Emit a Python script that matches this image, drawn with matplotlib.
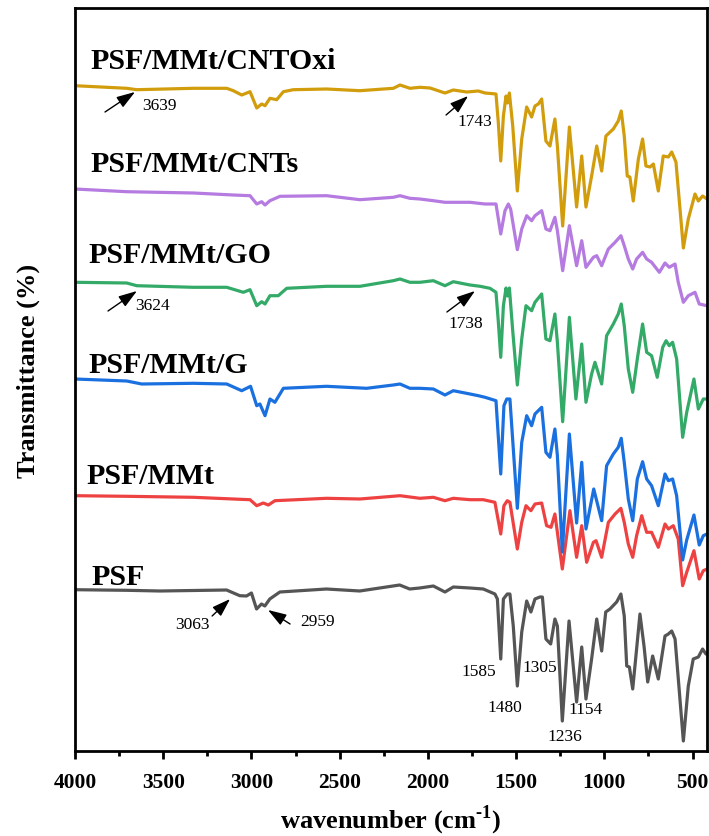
import matplotlib
matplotlib.use("Agg")
import matplotlib.pyplot as plt
from matplotlib.ticker import MultipleLocator

plt.rcParams['font.family'] = ['Liberation Serif', 'DejaVu Serif']
plt.rcParams['mathtext.fontset'] = 'custom'
plt.rcParams['mathtext.rm'] = 'Liberation Serif'
plt.rcParams['mathtext.bf'] = 'Liberation Serif:bold'

# ---------------- data (transmittance, a.u., stacked) ----------------
psf_wn = [4000, 3707, 3519, 3141, 3066, 3028, 3000, 2971, 2943, 2924, 2896, 2839, 2575, 2386,
          2160, 2103, 2046, 1969, 1903, 1856, 1761, 1686, 1620, 1606, 1587, 1572, 1550, 1535,
          1516, 1493, 1468, 1440, 1416, 1393, 1365, 1351, 1331, 1304, 1280, 1266, 1238, 1200,
          1157, 1128, 1104, 1072, 1043, 1015, 992, 968, 930, 906, 887, 873, 858, 839, 817, 798,
          775, 754, 726, 694, 656, 637, 618, 599, 552, 524, 496, 467, 443, 424, 418]
psf_t = [161.3, 160.7, 160, 161, 155.3, 155, 158, 142, 147, 145, 152, 159, 162, 160,
         166, 162, 163, 165, 159, 164, 163, 162, 157, 152, 92, 152, 157, 157,
         125, 65, 119, 150, 139, 152, 154, 154, 112, 107, 132, 125, 30, 130,
         49, 104, 52, 92, 132, 100, 139, 142, 149, 157, 135, 85, 84, 62, 102, 137,
         105, 69, 95, 72, 115, 117, 120, 112, 10, 65, 92, 94, 102, 97, 97]

mmt_wn = [4000, 3707, 3329, 3103, 3008, 2970, 2933, 2904, 2867, 2574, 2385, 2158, 2045, 1969,
          1903, 1856, 1761, 1686, 1620, 1587, 1569, 1550, 1535, 1493, 1468, 1444, 1416, 1393,
          1355, 1327, 1302, 1280, 1238, 1195, 1157, 1128, 1100, 1062, 1047, 1015, 977, 939,
          906, 887, 864, 839, 817, 788, 760, 732, 694, 656, 637, 609, 581, 556, 533, 492,
          462, 439, 418]
mmt_t = [255.3, 254.7, 253.7, 252, 251.3, 245.3, 248, 246, 250.3, 252.7, 252, 255.3, 252.7, 253.7,
         250.3, 252.7, 251.3, 251.3, 248.7, 217, 245.3, 250.3, 248.7, 202, 228.7, 245.3, 240.3, 247,
         248, 225.3, 223.7, 237, 182, 240.3, 193.7, 225.3, 188.7, 208.7, 210.3, 193.7, 228.7, 237,
         242.7, 228.7, 207, 193.7, 215.3, 235.3, 218.7, 218.7, 203.7, 227, 222, 225.3, 212, 165.3, 178.7, 200.3,
         172, 180.3, 182]

g_wn = [4000, 3707, 3622, 3329, 3140, 3055, 3005, 2970, 2952, 2923, 2895, 2867, 2819, 2574,
        2347, 2196, 2158, 2102, 2045, 1969, 1903, 1856, 1761, 1714, 1676, 1614, 1587, 1569,
        1553, 1535, 1493, 1468, 1440, 1412, 1393, 1355, 1331, 1308, 1280, 1266, 1238, 1198,
        1157, 1128, 1104, 1060, 1015, 987, 949, 921, 904, 887, 864, 839, 813, 783, 760, 732,
        694, 656, 637, 613, 590, 556, 533, 492, 462, 439, 418]
g_t = [372, 370, 367, 367.7, 367, 360.3, 364.7, 345.3, 347, 335.3, 352, 348.7, 362.7, 364.7,
       362.7, 366, 367, 362.7, 362.7, 362, 356, 360.3, 357, 355.3, 353.7, 350.3, 277, 345.3,
       352, 352, 242.7, 308.7, 335.3, 325.3, 337, 343.7, 298.7, 293.7, 322, 295.3, 199, 317,
       228, 288.7, 222, 262, 230.3, 285.3, 297, 303.7, 312.7, 288.7, 252, 230.3, 272, 289.3, 272, 265.3,
       245.3, 277, 270.3, 272, 255.3, 191, 211, 236, 206, 215.3, 217]

go_wn = [4000, 3707, 3650, 3329, 3140, 3046, 3008, 2970, 2942, 2923, 2895, 2848, 2800, 2574,
         2385, 2196, 2158, 2102, 2045, 1969, 1903, 1856, 1761, 1704, 1648, 1614, 1601, 1587,
         1572, 1557, 1548, 1538, 1519, 1493, 1468, 1444, 1412, 1393, 1355, 1331, 1308, 1280,
         1266, 1236, 1198, 1161, 1128, 1104, 1072, 1053, 1015, 987, 949, 921, 904, 887, 864,
         839, 813, 783, 760, 732, 700, 669, 650, 632, 613, 590, 556, 533, 492, 467, 439, 418]
go_t = [468.7, 468, 465.3, 463.7, 463.7, 458.7, 461.3, 445.3, 449.3, 447, 455.3, 455.3, 462.7, 464.7,
        464.7, 470.3, 472, 468.7, 468.7, 470.3, 465.3, 469.3, 466, 464.7, 462.7, 458.7, 430, 393.7,
        445.3, 463, 455, 463, 420, 366, 412, 445.3, 440.3, 448.7, 457, 412, 410.3, 437,
        408.7, 329.3, 433.7, 352, 407, 348.7, 377, 388.7, 367, 415.3, 427, 437, 447, 425.3, 382,
        358.7, 392, 427, 398.7, 395.3, 373.7, 403.7, 410.3, 405.3, 408.7, 392, 313.7, 338.7, 372, 342, 352, 352]

cnt_wn = [4000, 3707, 3329, 3103, 3008, 2970, 2942, 2923, 2895, 2838, 2574, 2385, 2196, 2158,
          2102, 2045, 1969, 1903, 1761, 1676, 1614, 1587, 1563, 1544, 1531, 1493, 1468, 1440,
          1412, 1393, 1355, 1331, 1308, 1280, 1266, 1236, 1198, 1157, 1128, 1104, 1062, 1043,
          1015, 977, 939, 906, 887, 864, 839, 817, 783, 760, 732, 688, 656, 632, 599, 581,
          552, 524, 486, 462, 418]
cnt_t = [562, 559.3, 558, 556, 555.3, 547, 549.3, 546, 550.3, 554.7, 555.3, 551.3, 553.7, 555.3,
         552.7, 552, 550.3, 548.7, 548.7, 547, 547, 517, 540.3, 547, 542, 501.3, 522, 535.3,
         530.3, 535.3, 540.3, 522, 520.3, 533.7, 520.3, 480.3, 525.3, 485.3, 510.3, 483.7, 493.7, 495.3,
         485.3, 502, 508.7, 515.3, 505.3, 492, 482, 492, 498.7, 492, 488.7, 478.7, 488, 483.7, 487, 468.7,
         448.7, 455.3, 458.7, 447, 445.3]

oxi_wn = [4000, 3707, 3650, 3329, 3140, 3103, 3055, 3008, 2970, 2942, 2923, 2895, 2857, 2819,
          2763, 2574, 2385, 2196, 2158, 2102, 2045, 1988, 1903, 1856, 1780, 1714, 1676, 1614,
          1601, 1587, 1572, 1557, 1548, 1538, 1519, 1493, 1468, 1440, 1412, 1393, 1374, 1355,
          1331, 1308, 1280, 1266, 1236, 1198, 1157, 1128, 1104, 1072, 1043, 1015, 991, 949,
          921, 904, 887, 870, 855, 836, 807, 783, 764, 741, 722, 694, 666, 637, 618, 594,
          552, 524, 486, 467, 443, 418]
oxi_t = [665.3, 662.7, 661.3, 662.7, 662.7, 660.3, 656, 659.3, 643, 647, 645.3, 652.7, 651.3, 659.3,
         661.3, 662, 660.3, 662.7, 666, 662.7, 663.7, 663, 658, 661, 659, 660, 658, 657,
         629, 590, 635, 655, 648, 658, 625, 560, 612, 644, 634, 645, 647, 652,
         610, 605, 632, 605, 525, 624, 544, 595, 544, 575, 605, 580, 615, 622,
         630, 640, 615, 575, 574, 550, 592, 612, 585, 584, 587, 560, 595, 594, 599, 589,
         503, 532, 557, 550, 555, 552]

series_names = ['PSF', 'PSF/MMt', 'PSF/MMt/G', 'PSF/MMt/GO', 'PSF/MMt/CNTs', 'PSF/MMt/CNTOxi']
series_colors = ['#555555', '#EE4242', '#1B70E0', '#34AA68', '#B57BE0', '#D29D0C']
series_wn = [psf_wn, mmt_wn, g_wn, go_wn, cnt_wn, oxi_wn]
series_t = [psf_t, mmt_t, g_t, go_t, cnt_t, oxi_t]

# series label anchors (wavenumber, transmittance)
label_wn = [3905, 3934, 3926, 3926, 3915, 3915]
label_t = [167, 268, 378.7, 489.3, 580.3, 683]

# peak annotations with arrows: text, text pos, arrow tail, arrow head
arrow_text = ['3639', '1743', '3624', '1738', '3063', '2959']
arrow_text_pos = [(3524, 646), (1733, 630), (3558, 446), (1784, 428), (3337, 127), (2623, 130)]
arrow_tail = [(3830, 639), (1897, 636), (3813, 440), (1892, 439), (3223, 135), (2781, 127)]
arrow_head = [(3660, 659), (1772, 655), (3649, 460), (1733, 460), (3121, 152), (2906, 141)]

# peak annotations without arrows
peak_text = ['1585', '1480', '1305', '1236', '1154']
peak_text_pos = [(1710, 80), (1563, 44), (1367, 84), (1223, 15), (1107, 42)]

# ---------------- figure ----------------
fig = plt.figure(figsize=(7.09, 8.37), dpi=100)
ax = fig.add_axes([75 / 709, (837 - 752) / 837, 632 / 709, 743 / 837])

for wn, t, c in zip(series_wn, series_t, series_colors):
    ax.plot(wn, t, color=c, lw=2.3, solid_joinstyle='round', solid_capstyle='round')

for name, x, y in zip(series_names, label_wn, label_t):
    ax.text(x, y, name, fontsize=21.5, fontweight='bold', ha='left', va='baseline')

for txt, tp, tail, head in zip(arrow_text, arrow_text_pos, arrow_tail, arrow_head):
    ax.annotate('', xy=head, xytext=tail,
                arrowprops=dict(arrowstyle='-|>,head_length=0.9,head_width=0.3',
                                lw=1.0, color='black', shrinkA=0, shrinkB=0,
                                mutation_scale=12.5))
    ax.text(tp[0], tp[1], txt, fontsize=12.5, ha='center', va='center')

for txt, tp in zip(peak_text, peak_text_pos):
    ax.text(tp[0], tp[1], txt, fontsize=12.5, ha='center', va='center')

ax.set_xlim(4000, 418)
ax.set_ylim(0, 743)
ax.set_yticks([])
ax.xaxis.set_major_locator(MultipleLocator(500))
ax.xaxis.set_minor_locator(MultipleLocator(250))
ax.tick_params(axis='x', which='major', direction='out', length=6, width=2, pad=9,
               labelsize=15.5)
ax.tick_params(axis='x', which='minor', direction='out', length=3.5, width=2)
for lab in ax.get_xticklabels():
    lab.set_fontweight('bold')
for sp in ax.spines.values():
    sp.set_linewidth(2)

ax.set_xlabel('wavenumber (cm$^{\\mathbf{\u2010}\\mathbf{1}}$)', fontsize=19, fontweight='bold', labelpad=8)
ax.set_ylabel('Transmittance (%)', fontsize=19, fontweight='bold')
ax.yaxis.set_label_coords(-0.055, 0.513)

fig.savefig('out.png', dpi=100)
